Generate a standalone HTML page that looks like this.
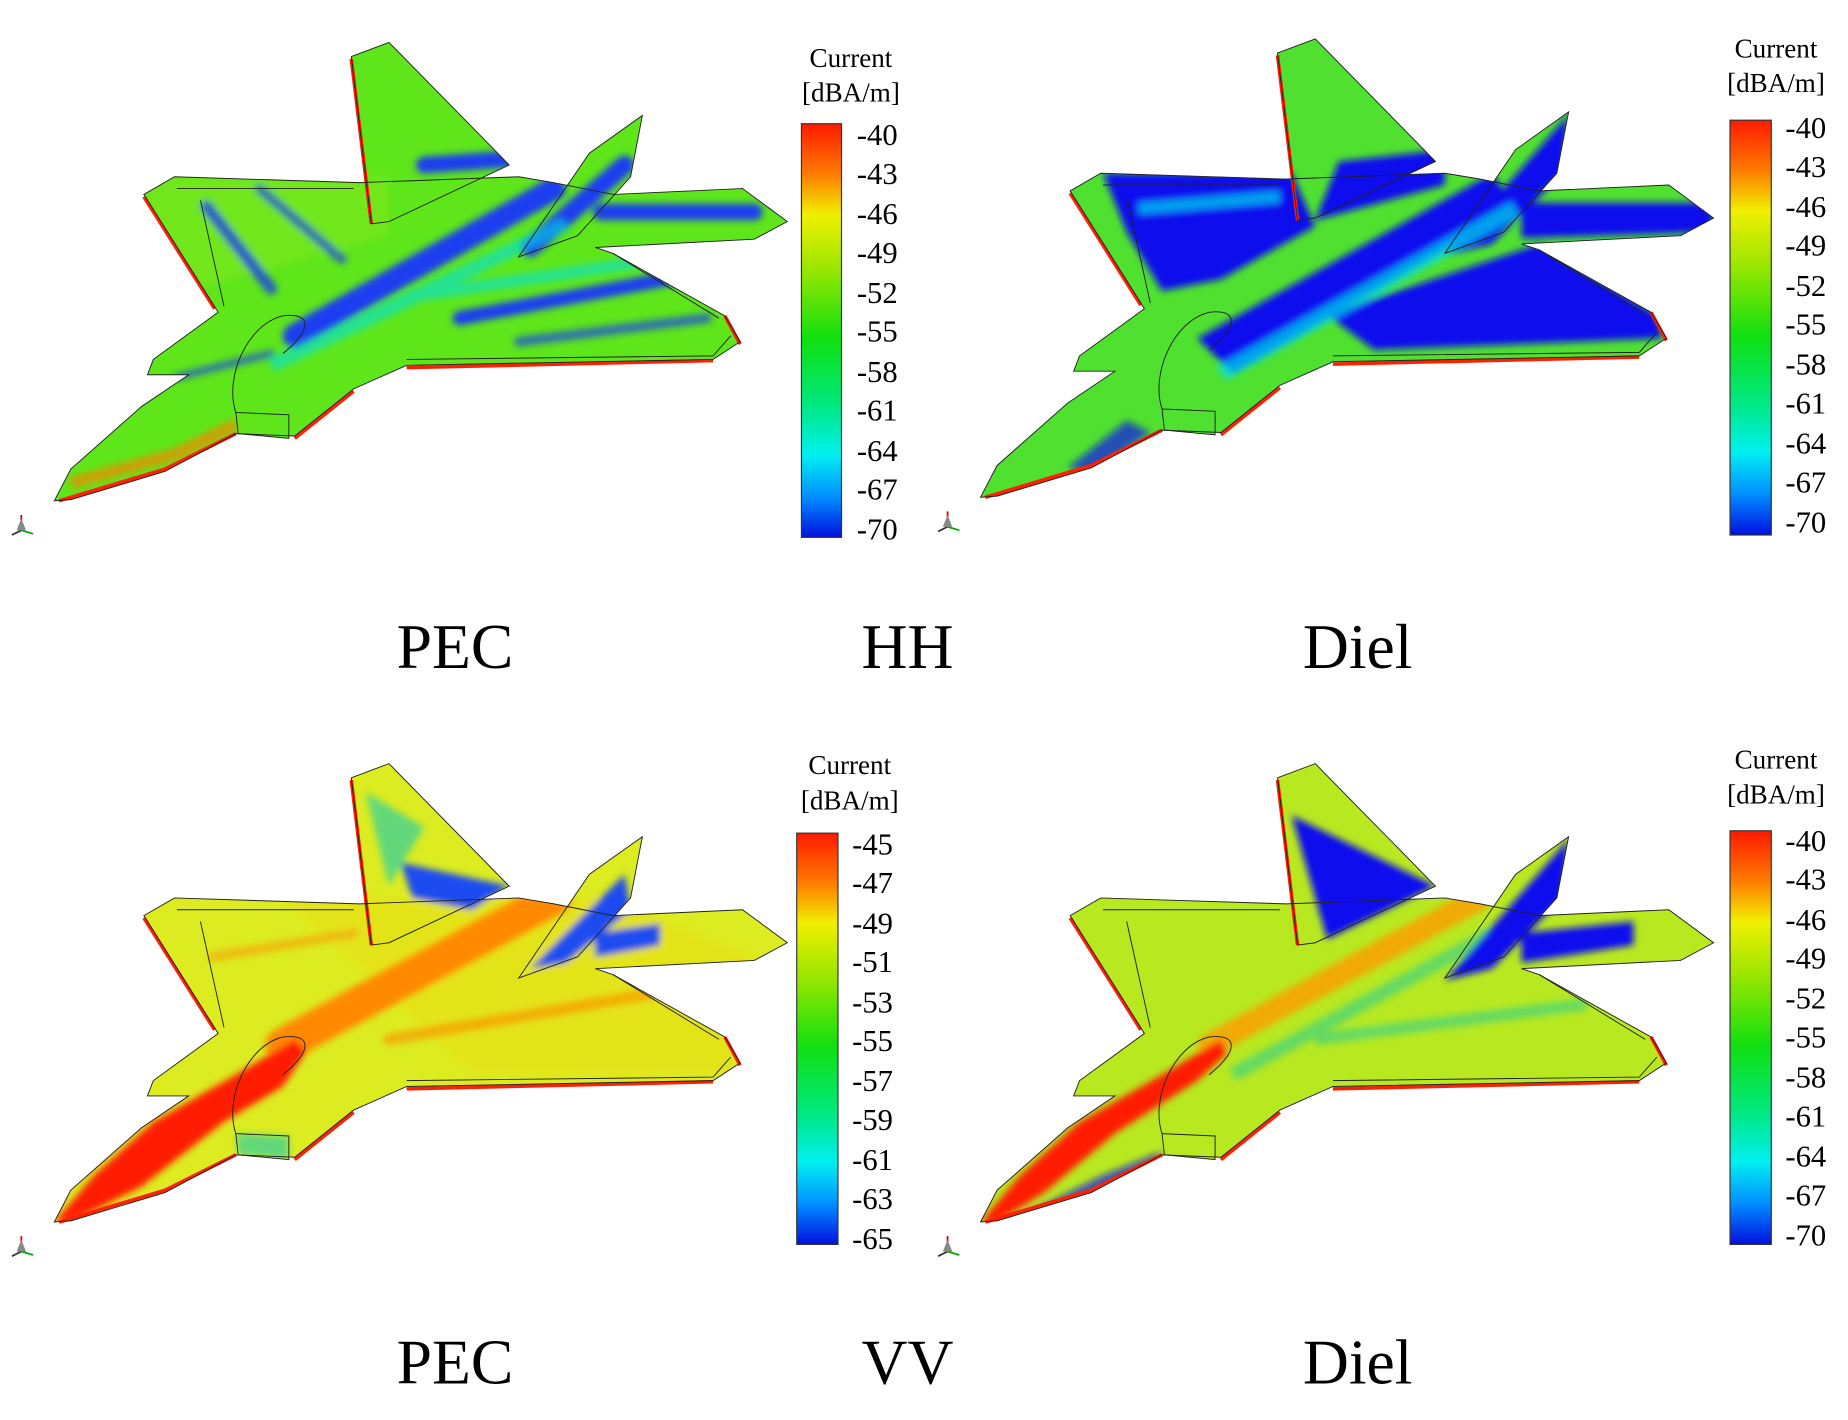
<!DOCTYPE html>
<html><head><meta charset="utf-8"><style>
html,body{margin:0;padding:0;background:#fff}
svg{display:block}
text{font-family:"Liberation Serif",serif;fill:#000}
</style></head><body>
<svg width="1848" height="1420" viewBox="0 0 1568 1205" xmlns="http://www.w3.org/2000/svg">
<defs>
<filter id="bl" x="-20%" y="-20%" width="140%" height="140%"><feGaussianBlur stdDeviation="3"/></filter>
<linearGradient id="cb" x1="0" y1="0" x2="0" y2="1">
<stop offset="0" stop-color="#ff1a00"/><stop offset="0.12" stop-color="#ff7a00"/>
<stop offset="0.22" stop-color="#f0f000"/><stop offset="0.35" stop-color="#9ae600"/>
<stop offset="0.52" stop-color="#10e010"/><stop offset="0.68" stop-color="#00e880"/>
<stop offset="0.8" stop-color="#00f0f0"/><stop offset="0.9" stop-color="#0090ff"/>
<stop offset="1" stop-color="#0010e0"/></linearGradient>
<path id="body" d="M46,425 L60,398 L120,345 L160,318 L125,318 L130,305 L185,265 L122,165 L148,150 L305,155 L440,150 L470,155 L520,165 L630,160 L668,188 L640,203 L505,210 L520,215 L615,268 L628,290 L605,305 L345,310 L300,330 L250,370 L200,368 L140,400 L60,424 Z"/>
<path id="vt1" d="M298,48 L330,36 L432,140 L330,188 L315,190 Z"/>
<path id="vt2" d="M440,218 L500,130 L545,98 L535,150 L490,200 Z"/>
<path id="intake" d="M200,350 L245,352 L245,372 L202,368 Z"/>
<clipPath id="cp"><use href="#body"/><use href="#vt1"/><use href="#vt2"/><use href="#intake"/></clipPath>
<g id="outline" fill="none" stroke="#222" stroke-width="0.8">
<use href="#body"/><use href="#vt1"/><use href="#vt2"/><use href="#intake"/>
<path d="M150,160 L300,160 M190,260 L170,170 M240,300 C265,280 265,265 240,268 C210,275 190,320 200,350 M345,305 L605,302 L620,285 M520,215 L610,270"/>
</g>
<g id="edges" fill="none" stroke="#ff2000" stroke-width="3">
<path d="M122,167 L182,262 M50,425 L140,398 L200,368 M345,312 L605,306 M250,372 L300,332 M298,50 L315,190 M628,292 L615,268"/>
</g>
<g id="triad" stroke-width="1.5"><line x1="18" y1="450" x2="18" y2="437" stroke="#c00"/><line x1="18" y1="450" x2="10" y2="454" stroke="#333"/><line x1="18" y1="450" x2="28" y2="453" stroke="#0a0"/><polygon points="14,450 18,440 22,450" fill="#888"/></g>
</defs>

<!-- Panel 1: PEC HH -->
<g>
<g clip-path="url(#cp)">
<rect x="0" y="0" width="700" height="460" fill="#5ee61a"/>
<g filter="url(#bl)">
<path d="M120,150 L330,150 L330,200 L150,250 Z" fill="#7fe820" opacity="0.6"/>
<g stroke="#1a3cf0" stroke-linecap="round" fill="none">
<path d="M250,285 L470,160" stroke-width="20"/>
<path d="M175,175 L230,245" stroke-width="10" opacity="0.8"/>
<path d="M220,160 L290,220" stroke-width="8" opacity="0.7"/>
<path d="M390,270 L575,235" stroke-width="12"/>
<path d="M440,290 L600,270" stroke-width="8" opacity="0.7"/>
<path d="M510,180 L640,180" stroke-width="14"/>
<path d="M360,140 L430,135" stroke-width="14"/>
<path d="M450,210 L530,140" stroke-width="16"/>
<path d="M150,320 L230,300" stroke-width="6" opacity="0.7"/>
</g>
<g stroke="#00e0e0" fill="none" opacity="0.6"><path d="M230,310 L480,190" stroke-width="12"/><path d="M360,250 L560,220" stroke-width="10"/></g>
<path d="M60,410 L150,385 L200,360" stroke="#ff8000" stroke-width="10" fill="none" opacity="0.7"/>
</g>
<path d="M46,425 L140,398 L200,368 L200,380 L46,430 Z" fill="#ff4000"/>
</g>
<use href="#edges"/><use href="#outline"/><use href="#triad"/>
<rect x="680" y="105" width="34" height="351" fill="url(#cb)" stroke="#333" stroke-width="1"/>
<text x="722" y="57" font-size="23" text-anchor="middle">Current</text>
<text x="722" y="86" font-size="23" text-anchor="middle">[dBA/m]</text>
<g font-size="26"><text x="727" y="123">-40</text><text x="727" y="156">-43</text><text x="727" y="190">-46</text><text x="727" y="223">-49</text><text x="727" y="257">-52</text><text x="727" y="290">-55</text><text x="727" y="324">-58</text><text x="727" y="357">-61</text><text x="727" y="391">-64</text><text x="727" y="424">-67</text><text x="727" y="458">-70</text></g>
</g>

<!-- Panel 2: Diel HH -->
<g transform="translate(786,-3)">
<g clip-path="url(#cp)">
<rect x="0" y="0" width="700" height="460" fill="#50e030"/>
<g filter="url(#bl)">
<g fill="#1010ee">
<path d="M150,150 L310,150 L330,195 L250,240 L200,250 L170,200 Z"/>
<path d="M230,290 L480,150 L500,180 L260,320 Z"/>
<path d="M350,140 L440,130 L440,160 L330,190 Z"/>
<path d="M340,270 L520,210 L620,270 L625,290 L380,300 Z"/>
<path d="M505,175 L668,175 L668,200 L505,205 Z"/>
<path d="M440,220 L545,100 L540,150 L480,210 Z"/>
<path d="M120,400 L170,360 L190,370 L140,405 Z" opacity="0.7"/>
</g>
<g stroke="#00e0f0" fill="none" opacity="0.7"><path d="M250,320 L500,180" stroke-width="14"/><path d="M180,180 L300,170" stroke-width="10"/></g>
</g>
<path d="M46,425 L140,398 L200,368 L200,380 L46,430 Z" fill="#ff4000"/>
</g>
<use href="#edges"/><use href="#outline"/><use href="#triad"/>
<rect x="682" y="105" width="35" height="352" fill="url(#cb)" stroke="#333" stroke-width="1"/>
<text x="721" y="52" font-size="23" text-anchor="middle">Current</text>
<text x="721" y="81" font-size="23" text-anchor="middle">[dBA/m]</text>
<g font-size="26"><text x="729" y="120">-40</text><text x="729" y="153">-43</text><text x="729" y="187">-46</text><text x="729" y="220">-49</text><text x="729" y="254">-52</text><text x="729" y="287">-55</text><text x="729" y="321">-58</text><text x="729" y="354">-61</text><text x="729" y="388">-64</text><text x="729" y="421">-67</text><text x="729" y="455">-70</text></g>
</g>

<!-- Panel 3: PEC VV -->
<g transform="translate(0,612)">
<g clip-path="url(#cp)">
<rect x="0" y="0" width="700" height="460" fill="#dcec20"/>
<g filter="url(#bl)">
<path d="M240,150 L520,150 L640,200 L620,300 L400,300 Z" fill="#e8e018" opacity="0.6"/>
<g stroke="#ff8a00" fill="none" stroke-linecap="round"><path d="M240,275 L470,150" stroke-width="30"/><path d="M330,270 L560,230" stroke-width="10" opacity="0.6"/><path d="M180,200 L300,180" stroke-width="8" opacity="0.5"/></g>
<path d="M46,425 L80,385 L130,340 L200,300 L250,270 L260,280 L240,310 L190,340 L120,395 L60,425 Z" fill="#ff1a00"/>
<g fill="#1a4cf0"><path d="M340,120 L432,140 L400,160 L350,150 Z"/><path d="M450,210 L530,130 L535,160 L480,205 Z"/><path d="M505,180 L560,172 L560,190 L505,200 Z"/></g>
<g fill="#30d0a0" opacity="0.7"><path d="M310,60 L360,90 L330,140 Z"/><path d="M200,350 L245,352 L245,372 L202,368 Z"/></g>
</g>
</g>
<use href="#edges"/><use href="#outline"/><use href="#triad"/>
<rect x="676" y="95" width="35" height="349" fill="url(#cb)" stroke="#333" stroke-width="1"/>
<text x="721" y="45" font-size="23" text-anchor="middle">Current</text>
<text x="721" y="75" font-size="23" text-anchor="middle">[dBA/m]</text>
<g font-size="26"><text x="723" y="113">-45</text><text x="723" y="146">-47</text><text x="723" y="180">-49</text><text x="723" y="213">-51</text><text x="723" y="247">-53</text><text x="723" y="280">-55</text><text x="723" y="314">-57</text><text x="723" y="347">-59</text><text x="723" y="381">-61</text><text x="723" y="414">-63</text><text x="723" y="448">-65</text></g>
</g>

<!-- Panel 4: Diel VV -->
<g transform="translate(786,612)">
<g clip-path="url(#cp)">
<rect x="0" y="0" width="700" height="460" fill="#b8e820"/>
<g filter="url(#bl)">
<g stroke="#ff9a00" fill="none" stroke-linecap="round" opacity="0.8"><path d="M240,275 L470,150" stroke-width="20"/></g>
<g stroke="#30d090" fill="none" opacity="0.6"><path d="M260,300 L480,180" stroke-width="12"/><path d="M330,270 L560,240" stroke-width="10"/></g>
<path d="M46,425 L80,385 L130,340 L200,300 L250,270 L255,282 L230,305 L160,350 L100,400 L60,425 Z" fill="#ff1a00"/>
<g fill="#1010ee"><path d="M310,80 L432,140 L340,185 Z"/><path d="M440,220 L545,100 L540,150 L480,210 Z"/><path d="M505,180 L600,170 L600,190 L505,205 Z"/><path d="M80,420 L150,385 L200,365 L195,375 L120,410 Z" opacity="0.7"/></g>
</g>
</g>
<use href="#edges"/><use href="#outline"/><use href="#triad"/>
<rect x="682" y="93" width="35" height="351" fill="url(#cb)" stroke="#333" stroke-width="1"/>
<text x="721" y="40" font-size="23" text-anchor="middle">Current</text>
<text x="721" y="70" font-size="23" text-anchor="middle">[dBA/m]</text>
<g font-size="26"><text x="729" y="110">-40</text><text x="729" y="143">-43</text><text x="729" y="177">-46</text><text x="729" y="210">-49</text><text x="729" y="244">-52</text><text x="729" y="277">-55</text><text x="729" y="311">-58</text><text x="729" y="344">-61</text><text x="729" y="378">-64</text><text x="729" y="411">-67</text><text x="729" y="445">-70</text></g>
</g>

<g font-size="54" text-anchor="middle">
<text x="386" y="567">PEC</text><text x="770" y="567">HH</text><text x="1152" y="567">Diel</text>
<text x="386" y="1174">PEC</text><text x="770" y="1174">VV</text><text x="1152" y="1174">Diel</text>
</g>
</svg>
</body></html>
